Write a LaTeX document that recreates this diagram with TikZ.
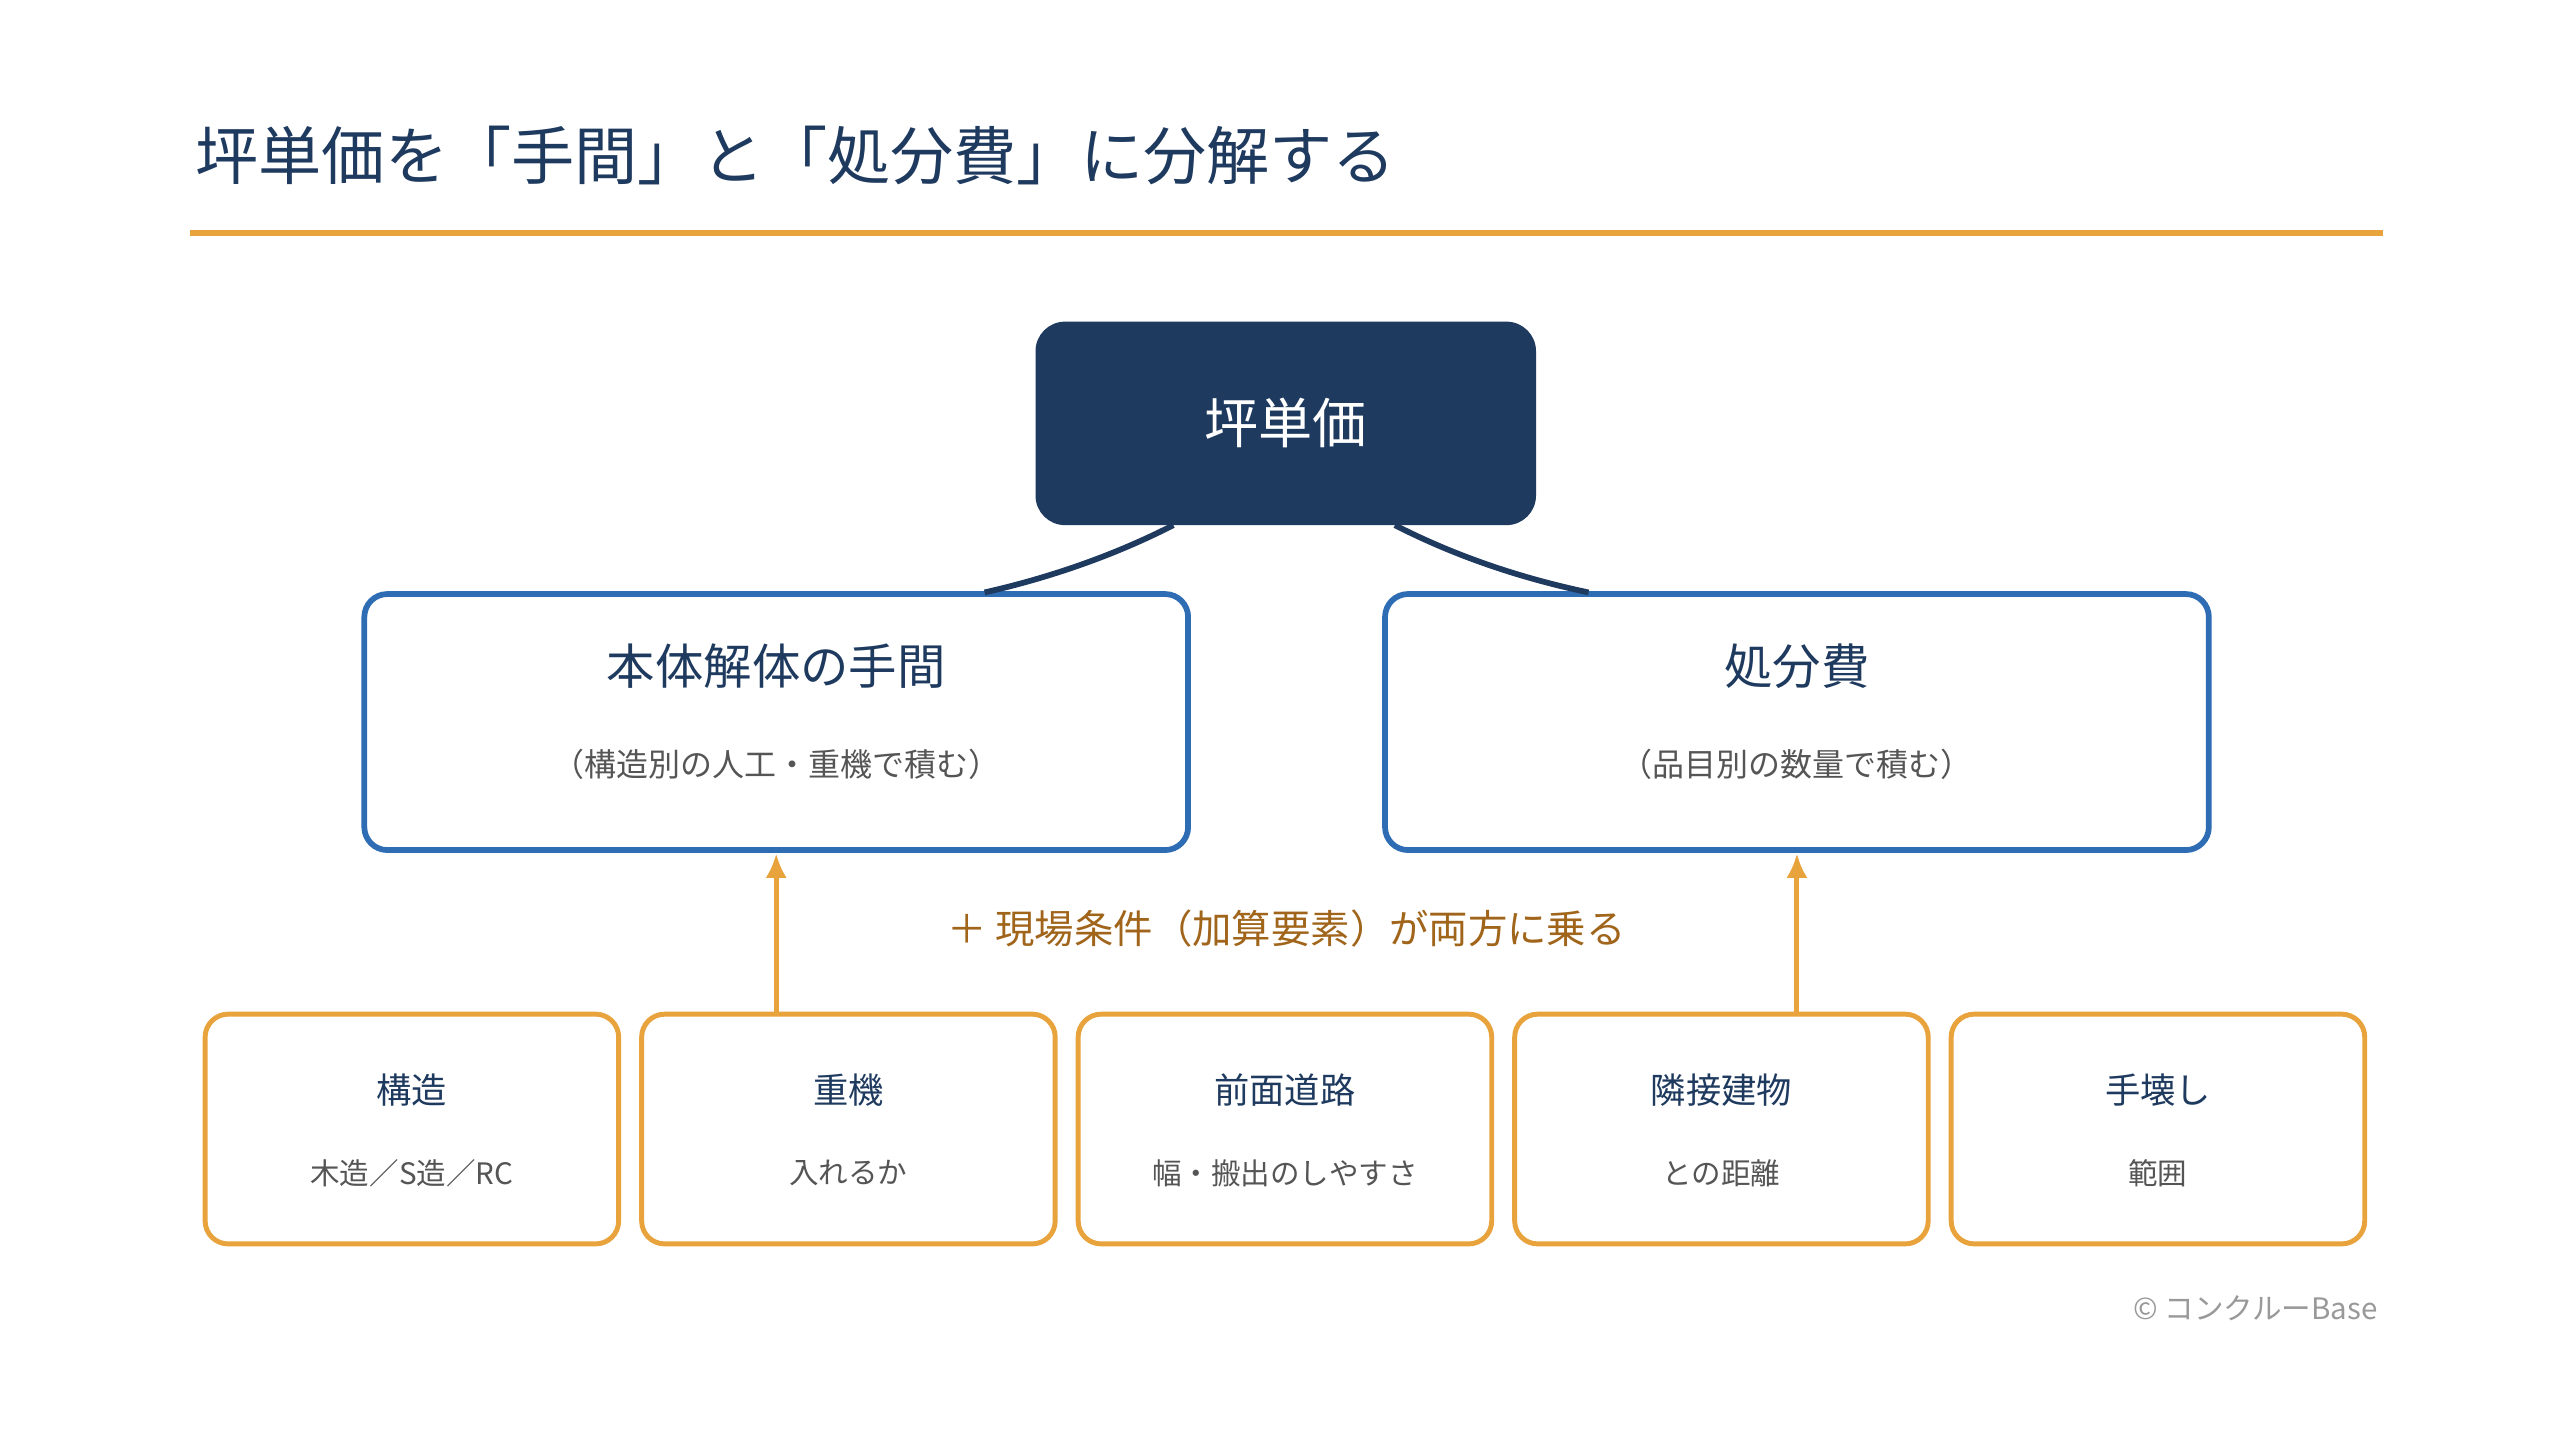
\documentclass[tikz,border=0pt]{standalone}
\usepackage{fontspec}
\setmainfont{Noto Sans CJK JP}
\usetikzlibrary{arrows.meta}
\begin{document}
\begin{tikzpicture}[x=1pt,y=-1pt,
  blue box/.style={draw=c2,line width=3.5pt,rounded corners=14pt,fill=white},
  org box/.style={draw=c3,line width=3pt,rounded corners=14pt,fill=white},
  ttl/.style={font=\fontsize{29.5}{32}\selectfont,text=c1},
  sub/.style={font=\fontsize{19.5}{22}\selectfont,text=c4},
  bttl/.style={font=\fontsize{21.5}{24}\selectfont,text=c1},
  bsub/.style={font=\fontsize{18}{20}\selectfont,text=c4},
  arr/.style={draw=c3,line width=3pt,-{Latex[length=15pt,width=13pt]}},
  conn/.style={draw=c1,line width=3.5pt}]
\definecolor{c1}{HTML}{1F3A5F}
\definecolor{c2}{HTML}{2E6DB4}
\definecolor{c3}{HTML}{E8A33C}
\definecolor{c4}{HTML}{555555}
\definecolor{c5}{HTML}{A0651A}
\useasboundingbox (0,0) rectangle (1560,877.5);
\fill[white] (0,0) rectangle (1560,877.5);
\node[anchor=west,inner sep=0pt,text=c1,font=\fontsize{38.5}{42}\selectfont] (title) at (119,95) {坪単価を「手間」と「処分費」に分解する};
\coordinate (l1) at (116,142); \coordinate (l2) at (1452,142);
\draw[c3,line width=4pt] (l1) -- (l2);
% top
\node[fill=c1,rounded corners=18pt,minimum width=305pt,minimum height=124pt,text=white,font=\fontsize{33}{36}\selectfont] (top) at (783.5,258) {坪単価};
% level 2
\draw[blue box] (222,362) rectangle (724,518);
\draw[blue box] (844,362) rectangle (1346,518);
\node[ttl] (Lt) at (473,406) {本体解体の手間};
\node[sub] (Ls) at (473,466) {（構造別の人工・重機で積む）};
\node[ttl] (Rt) at (1095,406) {処分費};
\node[sub] (Rs) at (1095,466) {（品目別の数量で積む）};
\coordinate (a1) at (715,320); \coordinate (a2) at (600,361);
\coordinate (b1) at (850,320); \coordinate (b2) at (968,361);
\draw[conn] (a1) .. controls (680,338) and (640,352) .. (a2);
\draw[conn] (b1) .. controls (885,338) and (925,352) .. (b2);
% arrows
\coordinate (p1) at (473,617); \coordinate (q1) at (473,520);
\coordinate (p2) at (1095,617); \coordinate (q2) at (1095,520);
\draw[arr] (p1) -- (q1);
\draw[arr] (p2) -- (q2);
\node[text=c5,font=\fontsize{24}{28}\selectfont] (mid) at (784,566) {＋ 現場条件（加算要素）が両方に乗る};
% bottom
\foreach \x/\n/\t/\s in {125/b1/構造/木造／S造／RC,391/b2/重機/入れるか,657/b3/前面道路/幅・搬出のしやすさ,923/b4/隣接建物/との距離,1189/b5/手壊し/範囲}{
  \draw[org box] (\x,618) rectangle (\x+252,758);
  \node[bttl] (\n t) at (\x+126,664) {\t};
  \node[bsub] (\n s) at (\x+126,715) {\s};
}
\node[anchor=east,inner sep=0pt,text=gray!80,font=\fontsize{18}{20}\selectfont] (copy) at (1449,797) {© コンクルーBase};
\end{tikzpicture}
\end{document}
